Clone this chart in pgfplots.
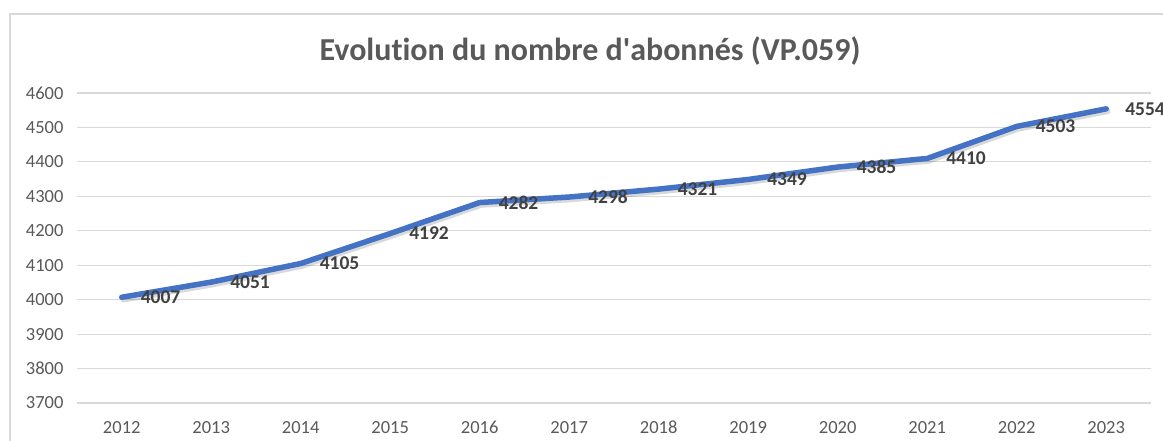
\documentclass[border=0pt]{standalone}
\usepackage{pgfplots}
\pgfplotsset{compat=1.18}
\usepackage{fontspec}
\setmainfont{Carlito}[Ligatures={NoCommon}]
\definecolor{linec}{HTML}{4472C4}
\definecolor{txt}{HTML}{595959}
\definecolor{lbl}{HTML}{404040}
\definecolor{gridc}{HTML}{D9D9D9}
\pgfplotstableread{
year value
2012 4007
2013 4051
2014 4105
2015 4192
2016 4282
2017 4298
2018 4321
2019 4349
2020 4385
2021 4410
2022 4503
2023 4554
}\abonnes
\begin{document}
\begin{tikzpicture}[x=1pt,y=1pt]
\useasboundingbox (0,0) rectangle (1163,441);
\draw[gridc, line width=1.5pt] (10,0) -- (10,427) -- (1163,427);
\node[anchor=base, font=\bfseries\fontsize{32}{38}\selectfont, text=txt] at (590,380) {Evolution du nombre d\textquotesingle abonnés (VP.059)};
\begin{axis}[
  at={(77pt,38pt)}, anchor=south west, scale only axis,
  width=1074pt, height=310pt,
  xmin=2011.5, xmax=2023.5, ymin=3700, ymax=4600,
  xtick={2012,...,2023}, ytick={3700,3800,...,4600},
  /pgf/number format/assume math mode=true,
  /pgf/number format/set thousands separator={},
  axis line style={draw=none}, major tick length=0pt,
  ymajorgrids, grid style={gridc, line width=1.2pt},
  tick label style={font=\fontsize{18.5}{22}\selectfont, text=txt},
  yticklabel style={xshift=-10pt},
  xticklabel style={text height=12pt, text depth=0pt, yshift=-15pt},
  clip=false,
]
\addplot[black, opacity=0.15, line width=5.5pt, line join=round, line cap=round, xshift=1.5pt, yshift=-2.5pt] table[x=year, y=value] {\abonnes};
\addplot[linec, line width=5.5pt, line join=round, line cap=round,
  nodes near coords={\pgfmathprintnumber[set thousands separator={},assume math mode=true]{\pgfplotspointmeta}},
  nodes near coords style={anchor=west, xshift=13pt, font=\bfseries\fontsize{19.5}{23}\selectfont, text=lbl}
] table[x=year, y=value] {\abonnes};
\end{axis}
\end{tikzpicture}
\end{document}
